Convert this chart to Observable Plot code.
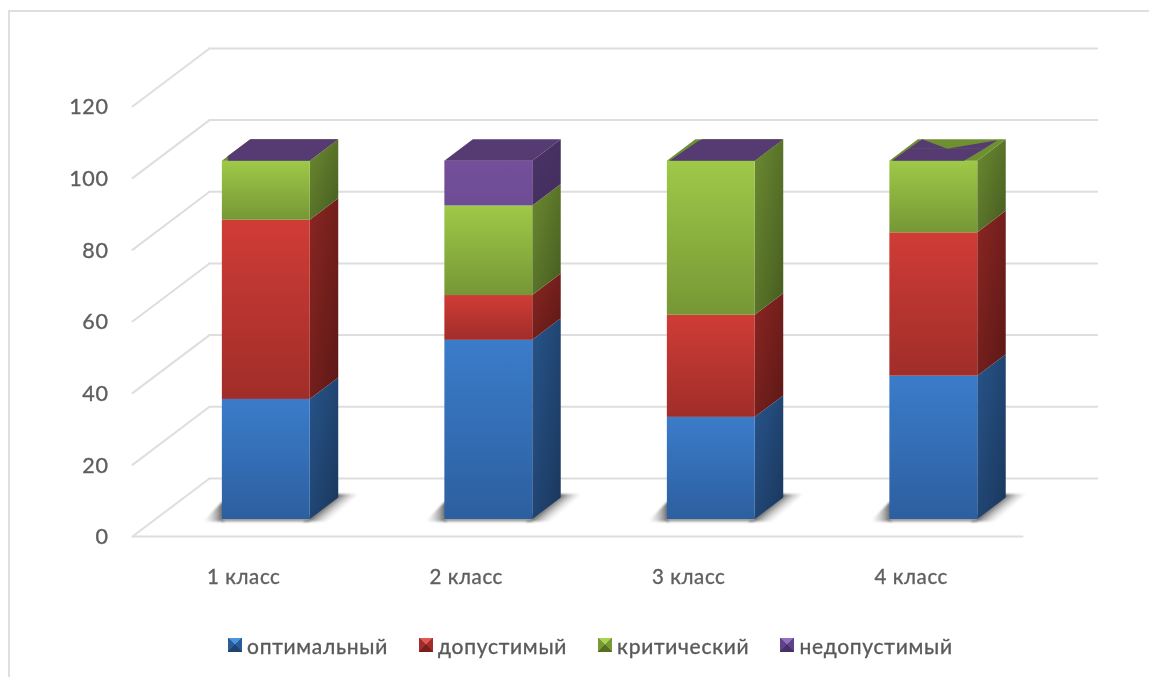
<!DOCTYPE html>
<html lang="ru">
<head>
<meta charset="utf-8">
<script src="https://cdn.jsdelivr.net/npm/d3@7"></script>
<script src="https://cdn.jsdelivr.net/npm/@observablehq/plot@0.6"></script>
<style>
  html, body { margin: 0; padding: 0; background: #fff; width: 1149px; height: 677px; overflow: hidden; }
  #frame { position: absolute; left: 8px; top: 10px; right: 0; bottom: 0; border-left: 2px solid #dfdfdf; border-top: 2px solid #dfdfdf; filter: blur(.4px); }
  #chart { position: absolute; left: 0; top: 0; }
  #chart svg { filter: blur(.6px); }
  #chart svg text { stroke: #5f5f5f; stroke-width: .35px; }
  #legend { position: absolute; left: 228px; top: 631px; display: flex; align-items: center; height: 28px;
    font: 21px Lato, "Open Sans", sans-serif; color: #595959; letter-spacing: .72px; -webkit-text-stroke: .35px #595959; filter: blur(.45px); white-space: nowrap; }
  #legend .sw { width: 14px; height: 14px; display: inline-block; margin-right: 5px; }
  #legend .it { display: flex; align-items: center; margin-right: 31px; }
</style>
</head>
<body>
<div id="frame"></div>
<div id="chart"></div>
<div id="legend"></div>
<script>
const categories = ["1 класс", "2 класс", "3 класс", "4 класс"];
const seriesNames = ["оптимальный", "допустимый", "критический", "недопустимый"];
const optimal = [33.5, 50, 28.5, 40];
const acceptable = [50, 12.5, 28.5, 40];
const critical = [16.5, 25, 43, 20];
const unacceptable = [0, 12.5, 0, 0];
const yTicks = [0, 20, 40, 60, 80, 100, 120];
const seriesValues = [optimal, acceptable, critical, unacceptable];

// 3D look of the chart
const frontColors = [["#3b7cca", "#2c5f9f"], ["#d03c36", "#a02d29"], ["#9fc948", "#769735"], ["#744f9b", "#6e4c94"]];
const sideColors = [["#27548a", "#1a375c"], ["#8a2622", "#5c1816"], ["#6b8a31", "#465c20"], ["#4a3266", "#432e5d"]];
const topColors = ["#2f659f", "#a9302c", "#6f8f33", "#563a72"];
const swatchColors = [["#4f93de", "#2a5c98", "#1f4470"], ["#dd5a54", "#a22d29", "#7a1f1c"], ["#a9d155", "#789a36", "#54701f"], ["#9270bd", "#5f4287", "#46306a"]];

const Z_FRONT = 0.293, Z_BACK = 0.663, DX = 0.346, DY = 16.2, BAR = 0.395;
const px = (x, z) => x + z * DX;
const py = (v, z) => v + z * DY;
const left = i => i + 0.5 - BAR / 2;
const right = i => i + 0.5 + BAR / 2;

const segments = [];
categories.forEach((c, i) => {
  let acc = 0;
  seriesValues.forEach((vals, s) => {
    if (vals[i] > 0) segments.push({s, i, y0: acc, y1: acc + vals[i]});
    acc += vals[i];
  });
});
const totals = categories.map((c, i) => d3.sum(seriesValues, v => v[i]));

function defs() {
  const d = d3.create("svg:defs");
  const grad = (id, a, b, x2, y2) => {
    const g = d.append("linearGradient").attr("id", id).attr("x1", 0).attr("y1", 0).attr("x2", x2).attr("y2", y2);
    g.append("stop").attr("offset", "0").attr("stop-color", a);
    g.append("stop").attr("offset", "1").attr("stop-color", b);
  };
  frontColors.forEach((c, s) => grad("front" + s, c[0], c[1], 0, 1));
  sideColors.forEach((c, s) => grad("side" + s, c[0], c[1], 1, 1));
  const sh = d.append("linearGradient").attr("id", "shadowRight")
    .attr("x1", 0.3).attr("y1", 0.55).attr("x2", 0.62).attr("y2", 0.74);
  sh.append("stop").attr("offset", "0").attr("stop-color", "#555");
  sh.append("stop").attr("offset", "1").attr("stop-color", "#ccc").attr("stop-opacity", 0);
  const sl = d.append("linearGradient").attr("id", "shadowLeft").attr("x1", 1).attr("y1", 0).attr("x2", 0).attr("y2", 0);
  sl.append("stop").attr("offset", "0").attr("stop-color", "#555");
  sl.append("stop").attr("offset", "1").attr("stop-color", "#ccc").attr("stop-opacity", 0);
  return d.node();
}

// Walls
const wallLines = yTicks.flatMap(t => [{t, x: 0, y: t}, {t, x: DX, y: t + DY}]);
const backLines = yTicks.flatMap(t => [{t, x: DX, y: t + DY}, {t, x: 4 + DX * 0.97, y: t + DY}]);
const frontFloor = [{x: 0, y: 0}, {x: 4, y: 0}];
const grid = {stroke: "#dedede", strokeWidth: 2};

// Floor shadows
const idx = categories.map((c, i) => i);
const shadowRight = idx.flatMap(i => [
  {i, x1: right(i) + Z_FRONT * DX - 0.03, x2: right(i) + Z_FRONT * DX + 0.085, y: py(-0.7, Z_FRONT)},
  {i, x1: right(i) + Z_BACK * DX - 0.03, x2: right(i) + Z_BACK * DX + 0.09, y: py(1, Z_BACK)}
]);
const shadowLeft = idx.flatMap(i => [
  {i, x1: left(i) + Z_FRONT * DX - 0.085, x2: left(i) + Z_FRONT * DX + 0.01, y: py(-0.7, Z_FRONT)},
  {i, x1: left(i) + Z_FRONT * DX, x2: left(i) + Z_FRONT * DX + 0.01, y: py(0.6, Z_FRONT + 0.25)}
]);

// Bar faces
const sideFaces = s => segments.filter(d => d.s === s).flatMap(d => [Z_FRONT, Z_BACK].map(z => ({
  id: d.i, x: px(right(d.i), z), y1: py(d.y0, z), y2: py(d.y1, z)
})));
const topFace = (i, s) => [Z_FRONT, Z_BACK].map(z => ({
  id: i, x1: px(left(i), z), x2: px(right(i), z), y: py(totals[i], z)
}));

// Where the top face shows patches of the hidden zero-height purple segment
// [depth fraction, left fraction, right fraction]
const patches = [
  {i: 0, rows: [[0, 0.07, 1], [0.2, 0.0, 1], [1, 0, 1]]},
  {i: 2, rows: [[0, 0.03, 1], [0.92, 0.06, 1], [1, 0.08, 1]]},
  {i: 3, rows: [[0, 0.03, 0.85], [0.55, 0.04, 0.9]]},
  {i: 3, rows: [[0.55, 0.04, 0.48], [1, 0.05, 0.05]]},
  {i: 3, rows: [[0.55, 0.48, 0.9], [0.95, 0.92, 0.92]]}
];
const patchRows = patches.flatMap((p, k) => p.rows.map(([w, a, b]) => {
  const z = Z_FRONT + w * (Z_BACK - Z_FRONT);
  return {k, x1: px(left(p.i) + a * BAR, z), x2: px(left(p.i) + b * BAR, z), y: py(totals[p.i], z)};
}));

const marks = [
  defs,
  Plot.line(wallLines, {x: "x", y: "y", z: "t", ...grid}),
  Plot.line(backLines, {x: "x", y: "y", z: "t", ...grid}),
  Plot.line(frontFloor, {x: "x", y: "y", ...grid}),
  Plot.axisY({ticks: yTicks, tickSize: 0, tickPadding: 24, fontSize: 21.5, fill: "#5f5f5f", dy: 1}),
  Plot.axisX({ticks: idx.map(i => i + 0.5), tickFormat: v => categories[v - 0.5], tickSize: 0, tickPadding: 33, fontSize: 20.5, fill: "#5f5f5f"}),
  Plot.area(shadowRight, {x1: "x1", x2: "x2", y1: "y", z: "i", fill: "url(#shadowRight)", imageFilter: "blur(1.2px)"}),
  Plot.area(shadowLeft, {x1: "x1", x2: "x2", y1: "y", z: "i", fill: "url(#shadowLeft)", imageFilter: "blur(1.2px)"}),
  Plot.rect(idx, {
    x1: i => px(left(i), Z_FRONT), x2: i => px(right(i), Z_FRONT),
    y1: () => py(-0.7, Z_FRONT), y2: () => py(0.5, Z_FRONT), fill: "#9a9a9a", imageFilter: "blur(1px)"
  }),
  ...seriesNames.map((n, s) => Plot.area(sideFaces(s), {x1: "x", y1: "y1", y2: "y2", z: "id", fill: `url(#side${s})`})),
  ...seriesNames.map((n, s) => Plot.rect(segments.filter(d => d.s === s), {
    x1: d => px(left(d.i), Z_FRONT), x2: d => px(right(d.i), Z_FRONT),
    y1: d => py(d.y0, Z_FRONT), y2: d => py(d.y1, Z_FRONT), fill: `url(#front${s})`
  })),
  ...idx.map(i => Plot.area(topFace(i), {
    x1: "x1", x2: "x2", y1: "y",
    fill: unacceptable[i] > 0 ? topColors[3] : topColors[2]
  })),
  Plot.area(patchRows, {x1: "x1", x2: "x2", y1: "y", z: "k", fill: topColors[3]})
];

const chart = Plot.plot({
  width: 1149,
  height: 620,
  marginLeft: 132,
  marginRight: 127,
  marginTop: 106,
  marginBottom: 84,
  x: {domain: [0, 4], axis: null},
  y: {domain: [0, 120], axis: null},
  style: {background: "transparent", fontFamily: "Lato, 'Open Sans', sans-serif", letterSpacing: ".6px", overflow: "visible"},
  marks
});
document.getElementById("chart").appendChild(chart);

const legend = d3.select("#legend");
seriesNames.forEach((n, s) => {
  const c = swatchColors[s];
  const it = legend.append("div").attr("class", "it");
  it.append("span").attr("class", "sw")
    .style("background", `conic-gradient(from -45deg at 50% 50%, ${c[0]} 0 90deg, ${c[1]} 90deg 180deg, ${c[2]} 180deg 270deg, ${c[1]} 270deg 360deg)`);
  it.append("span").text(n);
});
</script>
</body>
</html>
